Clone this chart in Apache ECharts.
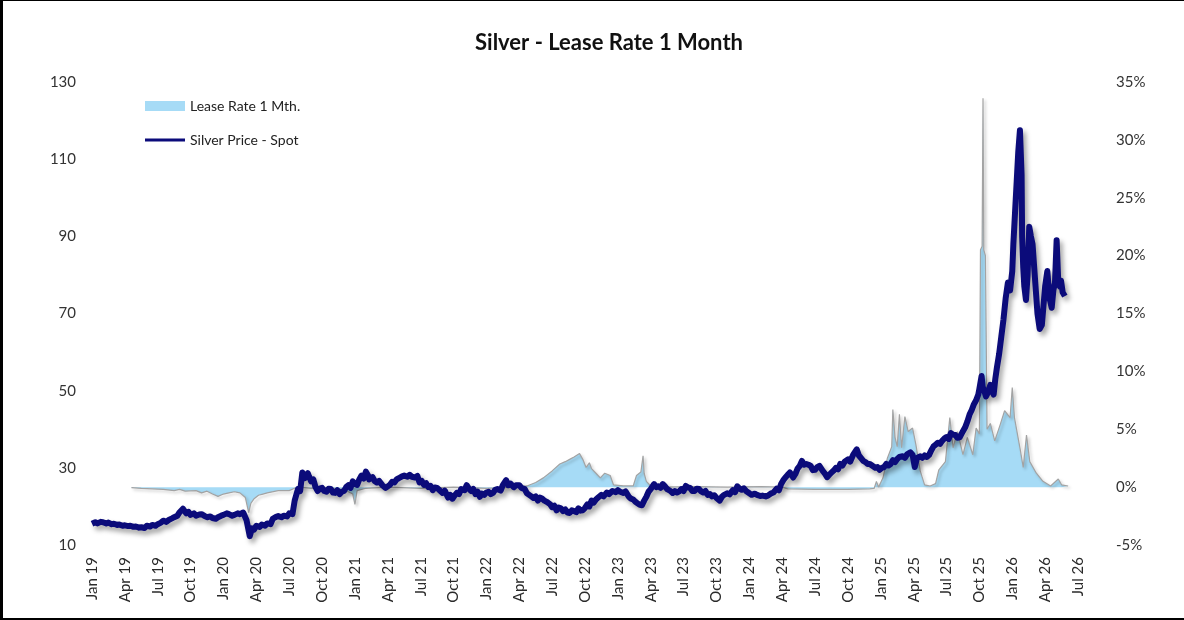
<!DOCTYPE html>
<html>
<head>
<meta charset="utf-8">
<script src="https://cdn.jsdelivr.net/npm/echarts@6/dist/echarts.min.js"></script>
<style>
html,body{margin:0;padding:0;background:#000;}
#frame{position:absolute;left:3px;top:1px;width:1181px;height:617px;background:#fff;overflow:hidden;}
#chart{position:absolute;left:-3px;top:-1px;width:1184px;height:620px;}
</style>
</head>
<body>
<div id="frame"><div id="chart"></div></div>
<script>
// x positions are month offsets from Jan 2019 (0 = Jan 19, 90 = Jul 26)
const tickLabels = ['Jan 19','Apr 19','Jul 19','Oct 19','Jan 20','Apr 20','Jul 20','Oct 20','Jan 21','Apr 21','Jul 21','Oct 21','Jan 22','Apr 22','Jul 22','Oct 22','Jan 23','Apr 23','Jul 23','Oct 23','Jan 24','Apr 24','Jul 24','Oct 24','Jan 25','Apr 25','Jul 25','Oct 25','Jan 26','Apr 26','Jul 26'];

const silverMonths = [0.0,0.3,0.5,0.8,1.0,1.3,1.5,1.8,2.0,2.3,2.5,2.8,3.0,3.3,3.5,3.8,4.0,4.3,4.5,4.8,5.0,5.3,5.5,5.8,6.0,6.3,6.5,6.8,7.0,7.3,7.5,7.8,8.0,8.3,8.6,8.8,9.0,9.3,9.5,9.8,10.0,10.3,10.5,10.8,11.0,11.3,11.5,11.8,12.0,12.3,12.5,12.8,13.0,13.3,13.5,13.8,14.1,14.4,14.6,14.8,15.0,15.3,15.5,15.8,16.0,16.3,16.5,16.8,17.0,17.3,17.5,17.8,18.0,18.3,18.5,18.8,19.0,19.2,19.4,19.5,19.7,19.8,20.0,20.2,20.4,20.6,20.8,21.0,21.2,21.4,21.6,21.8,22.0,22.2,22.4,22.6,22.8,23.0,23.2,23.4,23.6,23.8,24.0,24.2,24.4,24.6,24.8,25.0,25.2,25.3,25.6,25.8,26.0,26.2,26.5,26.8,27.0,27.2,27.4,27.6,27.8,28.0,28.3,28.5,28.8,29.0,29.2,29.5,29.7,29.9,30.1,30.3,30.5,30.7,30.9,31.1,31.3,31.5,31.8,32.0,32.2,32.5,32.7,32.9,33.1,33.3,33.5,33.7,34.0,34.2,34.4,34.6,34.8,35.0,35.2,35.4,35.6,35.8,36.0,36.2,36.4,36.6,36.8,37.0,37.3,37.5,37.8,38.0,38.2,38.5,38.7,39.0,39.2,39.5,39.7,39.9,40.1,40.3,40.5,40.7,40.9,41.1,41.3,41.5,41.8,42.0,42.2,42.4,42.6,42.8,43.0,43.2,43.4,43.6,43.8,44.0,44.2,44.4,44.6,44.8,45.0,45.2,45.4,45.6,45.8,46.0,46.2,46.5,46.7,47.0,47.2,47.5,47.8,48.0,48.2,48.5,48.7,49.0,49.2,49.4,49.6,49.8,50.0,50.2,50.4,50.6,50.8,51.0,51.3,51.5,51.7,51.9,52.1,52.3,52.5,52.8,53.0,53.2,53.4,53.6,53.8,54.0,54.2,54.4,54.6,54.8,55.0,55.2,55.4,55.6,55.8,56.0,56.2,56.4,56.6,56.8,57.0,57.3,57.5,57.7,58.0,58.2,58.5,58.7,58.9,59.1,59.3,59.5,59.7,60.0,60.2,60.5,60.7,61.0,61.2,61.5,61.7,62.0,62.2,62.5,62.7,62.9,63.1,63.3,63.5,63.7,64.0,64.2,64.4,64.6,64.8,65.0,65.2,65.4,65.6,65.8,66.0,66.2,66.4,66.7,66.9,67.1,67.3,67.5,67.7,67.9,68.1,68.3,68.5,68.7,69.0,69.2,69.5,69.8,70.0,70.2,70.4,70.6,70.8,71.0,71.2,71.5,71.7,71.9,72.1,72.3,72.5,72.7,72.9,73.1,73.3,73.5,73.7,74.0,74.2,74.4,74.7,74.9,75.1,75.3,75.4,75.6,75.8,76.0,76.2,76.4,76.6,76.8,77.0,77.2,77.4,77.6,77.8,78.0,78.2,78.4,78.6,78.8,79.0,79.2,79.5,79.7,79.9,80.1,80.3,80.5,80.7,80.9,81.0,81.2,81.3,81.5,81.6,81.8,82.0,82.15,82.3,82.45,82.6,82.8,83.0,83.2,83.4,83.6,83.8,84.0,84.1,84.25,84.4,84.55,84.7,84.85,84.9,85.0,85.1,85.25,85.4,85.55,85.7,85.85,86.0,86.15,86.3,86.5,86.7,86.85,87.0,87.2,87.4,87.6,87.75,87.9,88.05,88.2,88.35,88.45,88.6,88.8,89.0,89.1];
const silverPrice = [15.5,15.9,15.6,16.0,15.9,15.6,15.8,15.4,15.5,15.2,15.3,15.0,15.1,14.9,15.0,14.7,14.8,14.5,14.6,14.4,15.0,14.8,15.2,15.0,15.4,15.8,16.3,16.0,16.5,16.9,17.2,17.6,18.5,19.4,18.2,18.6,17.8,18.2,17.6,17.9,18.0,17.5,17.2,17.4,17.0,16.8,17.2,17.6,17.8,18.2,18.0,17.6,17.8,18.2,18.0,18.4,16.5,12.3,14.3,14.0,15.0,14.7,15.3,15.0,15.6,15.4,16.8,17.3,17.5,17.2,17.6,17.4,18.2,18.0,21.5,24.5,24.0,28.8,27.3,27.5,28.6,27.8,26.5,27.0,25.0,24.0,24.6,24.8,24.0,23.8,24.6,24.5,23.6,23.5,24.2,23.2,23.8,24.0,25.0,25.5,24.8,26.5,25.8,25.6,27.0,28.0,27.2,29.0,28.0,27.0,27.6,26.6,26.2,26.6,25.5,24.8,25.2,25.6,26.4,26.2,27.0,27.3,27.8,28.0,27.7,28.2,27.7,27.5,27.9,26.2,26.6,25.6,26.0,25.0,25.3,24.2,24.9,24.8,24.0,23.5,24.1,22.3,23.0,22.0,22.8,23.5,23.2,24.5,24.2,25.5,24.6,24.0,24.5,23.2,23.8,22.5,23.3,23.0,23.6,23.8,23.2,23.5,24.3,24.5,24.1,25.5,26.8,25.5,25.9,25.0,25.5,25.5,24.8,24.5,23.4,23.0,22.6,22.2,22.6,21.5,22.3,22.0,21.5,21.2,20.6,19.8,20.2,19.0,19.7,19.5,18.8,19.2,18.4,18.3,19.0,18.8,18.5,19.5,18.9,19.0,19.6,20.5,20.0,21.5,21.0,21.8,22.3,23.0,22.6,23.6,23.2,24.0,23.7,24.2,23.8,23.5,23.9,22.5,22.0,21.8,21.2,20.8,20.4,20.3,21.5,22.5,23.8,24.5,25.8,25.0,25.2,24.8,25.8,25.2,24.5,24.0,23.5,24.0,23.6,23.9,24.5,24.0,25.3,24.9,24.8,24.0,24.0,24.6,24.5,23.9,23.6,24.0,23.0,23.2,22.6,22.9,22.2,21.5,22.5,23.0,23.4,23.1,24.2,23.7,25.2,24.6,24.3,24.7,24.0,23.4,23.0,23.3,23.0,22.7,22.8,22.6,22.8,23.4,23.6,24.6,24.2,25.8,26.8,27.5,28.2,28.8,27.5,28.4,29.8,30.5,31.8,30.8,31.0,30.8,30.5,29.4,29.5,30.2,30.5,29.2,28.5,27.6,28.2,28.8,29.3,30.0,29.6,31.0,30.6,31.6,32.2,31.6,33.5,34.8,33.2,32.5,31.8,31.5,31.0,31.0,30.6,30.0,30.2,29.5,30.0,30.2,31.0,30.6,31.0,32.0,31.5,32.3,32.8,33.0,32.6,33.5,34.0,33.4,30.2,32.5,32.0,33.0,32.6,33.2,32.8,33.3,34.5,35.5,36.0,36.5,36.2,37.0,37.6,38.0,37.5,39.0,38.6,38.5,37.8,37.9,39.5,40.5,42.0,43.8,45.0,46.5,47.5,49.0,50.5,53.8,51.0,49.5,48.5,49.6,51.5,50.0,49.0,53.0,56.0,59.5,64.0,68.5,74.0,78.0,76.0,81.0,88.0,96.0,104.0,112.0,117.5,106.0,90.0,82.0,77.0,73.5,80.0,92.5,90.0,88.0,82.0,76.0,70.0,66.0,67.0,72.0,77.0,81.0,74.0,71.5,76.0,78.0,89.0,78.0,77.0,78.5,75.5,74.5];

const leaseMonths = [3.6,4.5,5.5,6.5,7.5,8.0,8.5,9.5,10.0,10.5,11.0,11.5,12.0,12.5,13.0,13.5,14.0,14.3,14.5,14.8,15.2,15.6,16.0,17.0,18.0,18.5,19.0,20.0,21.0,22.0,23.0,23.8,24.0,24.2,25.0,27.0,30.0,33.0,36.0,39.0,39.7,40.5,41.2,42.0,42.7,43.2,43.6,44.0,44.5,44.8,45.1,45.4,45.6,46.0,46.4,46.8,47.3,47.6,48.5,49.4,49.7,50.1,50.3,50.4,50.6,51.0,52.0,55.0,58.0,61.0,63.0,63.5,66.0,69.0,71.0,71.4,71.6,71.8,72.2,72.6,73.0,73.1,73.3,73.5,73.7,73.9,74.2,74.5,74.9,75.2,75.6,76.0,76.5,77.0,77.3,77.9,78.3,78.6,79.0,79.5,79.9,80.4,80.7,81.0,81.1,81.25,81.33,81.4,81.55,81.7,82.0,82.4,82.9,83.3,83.8,84.0,84.2,84.7,85.0,85.3,85.6,86.2,86.8,87.5,88.2,88.5,89.1];
const leaseRate = [-0.05,-0.1,-0.15,-0.2,-0.3,-0.2,-0.35,-0.3,-0.5,-0.35,-0.6,-0.8,-0.6,-0.5,-0.4,-0.5,-0.9,-2.2,-1.4,-1.0,-0.7,-0.6,-0.5,-0.3,-0.3,-0.1,0.0,-0.1,0.0,-0.1,-0.2,-0.6,-1.5,-0.3,-0.1,0.0,-0.1,0.0,-0.1,0.0,0.1,0.4,0.8,1.4,2.0,2.2,2.4,2.6,2.9,2.4,1.7,2.1,1.6,1.2,0.8,1.2,1.0,0.2,0.1,0.1,1.0,1.3,2.7,1.2,0.5,0.1,0.0,0.05,0.0,0.05,0.0,-0.15,-0.2,-0.2,-0.15,-0.1,0.5,0.0,0.8,2.5,3.5,6.7,4.3,3.5,6.3,3.4,6.1,4.8,5.1,3.7,1.4,0.2,0.1,0.3,1.5,2.2,6.0,3.4,4.8,2.8,4.3,2.8,5.1,4.6,20.5,20.8,33.6,20.5,20.0,5.0,5.5,4.0,5.4,6.6,6.0,8.6,6.0,3.4,1.7,4.5,2.2,1.2,0.5,0.1,0.7,0.2,0.1];

const silverData = silverMonths.map((m, i) => [m, silverPrice[i]]);
const leaseData = leaseMonths.map((m, i) => [m, leaseRate[i]]);

const FONT = 'Lato, "Open Sans", sans-serif';
const chart = echarts.init(document.getElementById('chart'));
chart.setOption({
  animation: false,
  backgroundColor: 'transparent',
  title: {
    text: 'Silver - Lease Rate 1 Month',
    left: 609, top: 32, textAlign: 'center', padding: 0,
    textStyle: { fontFamily: FONT, fontSize: 22, fontWeight: 'bold', color: '#111' }
  },
  legend: {
    orient: 'vertical', left: 145, top: 99, itemGap: 20,
    itemWidth: 40, itemHeight: 10, padding: 0,
    textStyle: { fontFamily: FONT, fontSize: 14, color: '#222' },
    data: [
      { name: 'Lease Rate 1 Mth.', icon: 'rect' },
      { name: 'Silver Price - Spot', icon: 'path://M0,0L0,0M40,10L40,10M0,3.4H40V6.6H0Z' }
    ]
  },
  grid: { left: 92, right: 106, top: 82, bottom: 75, containLabel: false },
  xAxis: {
    type: 'value', min: 0, max: 90, interval: 3,
    axisLine: { show: false }, axisTick: { show: false }, splitLine: { show: false },
    axisLabel: {
      rotate: 90, margin: 12, fontFamily: FONT, fontSize: 15, color: '#2a2a2a',
      formatter: v => (v % 3 === 0 ? tickLabels[v / 3] : '')
    }
  },
  yAxis: [
    {
      type: 'value', min: 10, max: 130, interval: 20, position: 'left',
      axisLine: { show: false }, axisTick: { show: false }, splitLine: { show: false },
      axisLabel: { margin: 16, fontFamily: FONT, fontSize: 15, color: '#333' }
    },
    {
      type: 'value', min: -5, max: 35, interval: 5, position: 'right',
      axisLine: { show: false }, axisTick: { show: false }, splitLine: { show: false },
      axisLabel: { margin: 38, fontFamily: FONT, fontSize: 15, color: '#333', formatter: v => v + '%' }
    }
  ],
  series: [
    {
      name: 'Lease Rate 1 Mth.', type: 'line', yAxisIndex: 1, data: leaseData,
      symbol: 'none', smooth: false,
      lineStyle: { color: '#a3a3a3', width: 1.2, shadowColor: 'rgba(0,0,0,0.25)', shadowBlur: 3, shadowOffsetX: 2, shadowOffsetY: 2 },
      itemStyle: { color: '#a6dbf6' },
      areaStyle: { color: '#a6dbf6', opacity: 1, origin: 0 }
    },
    {
      name: 'Silver Price - Spot', type: 'line', yAxisIndex: 0, data: silverData,
      symbol: 'none', smooth: false,
      lineStyle: { color: '#0b0b7a', width: 6, join: 'round', shadowColor: 'rgba(0,0,0,0.35)', shadowBlur: 5, shadowOffsetX: 3, shadowOffsetY: 4 },
      itemStyle: { color: '#0b0b7a' }
    }
  ]
});
</script>
</body>
</html>
